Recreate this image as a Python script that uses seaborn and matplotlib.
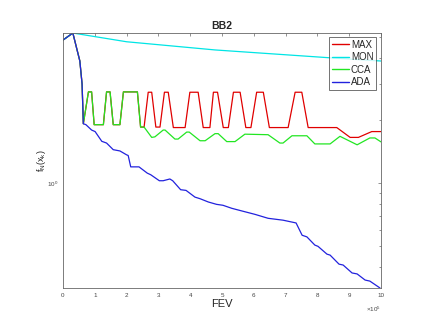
import matplotlib
matplotlib.use("Agg")
import matplotlib.pyplot as plt
from matplotlib.ticker import LogLocator, NullFormatter, LogFormatterMathtext
import seaborn as sns
import pandas as pd

# FEV in units of 1e5
ada_x = [0, 0.31, 0.53, 0.60, 0.64, 0.72, 0.90, 1.01, 1.22, 1.37, 1.58, 1.79, 2.00, 2.05,
         2.13, 2.39, 2.65, 2.76, 3.03, 3.15, 3.36, 3.45, 3.70, 3.87, 4.15, 4.31, 4.57,
         4.83, 5.03, 5.31, 5.66, 6.04, 6.45, 6.92, 7.33, 7.52, 7.67, 7.92, 8.02, 8.30,
         8.40, 8.68, 8.81, 9.09, 9.25, 9.50, 9.65, 9.97]
ada_y = [4.85, 5.24, 3.85, 2.99, 1.93, 1.91, 1.80, 1.77, 1.59, 1.56, 1.45, 1.43, 1.37, 1.36,
         1.20, 1.20, 1.12, 1.10, 1.03, 1.03, 1.05, 1.03, 0.933, 0.926, 0.86, 0.845, 0.815,
         0.794, 0.786, 0.76, 0.736, 0.711, 0.681, 0.667, 0.647, 0.565, 0.555, 0.507, 0.50,
         0.459, 0.454, 0.411, 0.407, 0.373, 0.369, 0.345, 0.341, 0.316]

mon_x = [0, 0.31, 2.00, 4.78, 8.49, 10.0]
mon_y = [4.85, 5.24, 4.76, 4.35, 3.98, 3.85]

cca_x = [0, 0.31, 0.53, 0.60, 0.64, 0.80, 0.90, 0.98, 1.27, 1.37, 1.48, 1.58, 1.79, 1.90,
         2.34, 2.44, 2.55, 2.79, 2.89, 3.15, 3.21, 3.52, 3.62, 3.89, 3.97, 4.31, 4.47,
         4.78, 4.88, 5.15, 5.41, 5.72, 6.45, 6.82, 6.92, 7.20, 7.67, 7.92, 8.40, 8.71,
         9.25, 9.65, 9.81, 10.0]
cca_y = [4.85, 5.24, 3.85, 2.99, 1.93, 2.74, 2.74, 1.91, 1.91, 2.74, 2.74, 1.91, 1.91, 2.74,
         2.74, 1.86, 1.86, 1.66, 1.67, 1.80, 1.80, 1.63, 1.63, 1.76, 1.76, 1.60, 1.60,
         1.73, 1.73, 1.585, 1.585, 1.72, 1.71, 1.56, 1.56, 1.69, 1.69, 1.545, 1.545, 1.68,
         1.53, 1.65, 1.65, 1.58]

max_x = [0, 0.31, 0.53, 0.60, 0.64, 0.80, 0.90, 0.98, 1.27, 1.37, 1.48, 1.58, 1.79, 1.90,
         2.34, 2.44, 2.55, 2.68, 2.79, 2.92, 3.05, 3.19, 3.31, 3.47, 3.84, 3.99, 4.25,
         4.41, 4.62, 4.73, 4.86, 5.04, 5.20, 5.36, 5.57, 5.75, 5.91, 6.09, 6.30, 6.49,
         7.08, 7.30, 7.51, 7.71, 8.61, 9.03, 9.29, 9.71, 10.0]
max_y = [4.85, 5.24, 3.85, 2.99, 1.93, 2.74, 2.74, 1.91, 1.91, 2.74, 2.74, 1.91, 1.91, 2.74,
         2.74, 1.86, 1.86, 2.73, 2.73, 1.86, 1.86, 2.73, 2.73, 1.85, 1.85, 2.73, 2.73,
         1.85, 1.85, 2.73, 2.73, 1.85, 1.85, 2.73, 2.73, 1.85, 1.85, 2.73, 2.73, 1.85,
         1.85, 2.73, 2.73, 1.85, 1.85, 1.66, 1.66, 1.77, 1.77]

methods = ["MAX", "MON", "CCA", "ADA"]
colors = ["#e00000", "#00e5e5", "#22e622", "#2222dd"]

frames = []
for name, xs, ys in [("MAX", max_x, max_y), ("MON", mon_x, mon_y),
                     ("CCA", cca_x, cca_y), ("ADA", ada_x, ada_y)]:
    frames.append(pd.DataFrame({"fev": xs, "f": ys, "method": name}))
df = pd.concat(frames, ignore_index=True)

sns.set_style("white")
plt.rcParams["font.family"] = ["Liberation Sans", "DejaVu Sans"]
plt.rcParams["mathtext.fontset"] = "custom"
plt.rcParams["mathtext.rm"] = "Liberation Sans"
plt.rcParams["mathtext.it"] = "Liberation Sans"

fig = plt.figure(figsize=(4.30, 3.32), dpi=100)
ax = fig.add_axes([0.1465, 0.1325, 0.7395, 0.768])

sns.lineplot(data=df, x="fev", y="f", hue="method", hue_order=methods,
             palette=colors, sort=False, estimator=None, linewidth=0.9, ax=ax)

ax.set_yscale("log")
ax.set_xlim(0, 10)
ax.set_ylim(min(ada_y), max(ada_y))
ax.set_xticks(range(0, 11))
ax.yaxis.set_major_locator(LogLocator(base=10))
ax.yaxis.set_major_formatter(LogFormatterMathtext())
ax.yaxis.set_minor_locator(LogLocator(base=10, subs=range(2, 10)))
ax.yaxis.set_minor_formatter(NullFormatter())

for s in ax.spines.values():
    s.set_color("#666666")
    s.set_linewidth(0.6)
ax.tick_params(which="both", direction="in", top=True, right=True,
               color="#666666", width=0.5, labelsize=4.5, labelcolor="#444444")
ax.tick_params(which="major", length=2.5)
ax.tick_params(which="minor", length=1.8)

ax.set_title("BB2", fontsize=7.5, fontweight="bold", pad=3)
ax.set_xlabel("FEV", fontsize=8, labelpad=1)
ax.set_ylabel(r"f$_N$(x$_k$)", fontsize=6.5, labelpad=-1)
ax.text(1.0, -0.065, r"$\times10^5$", transform=ax.transAxes, ha="right",
        va="top", fontsize=4.5, color="#444444")

leg = ax.legend(loc="upper right", bbox_to_anchor=(0.985, 0.985), fontsize=7,
                frameon=True, fancybox=False, borderpad=0.3, labelspacing=0.25,
                handlelength=1.7, handletextpad=0.2, borderaxespad=0)
leg.get_frame().set_edgecolor("#333333")
leg.get_frame().set_linewidth(0.6)
for line in leg.get_lines():
    line.set_linewidth(1.0)

fig.savefig("out.png", dpi=100, facecolor="white")
